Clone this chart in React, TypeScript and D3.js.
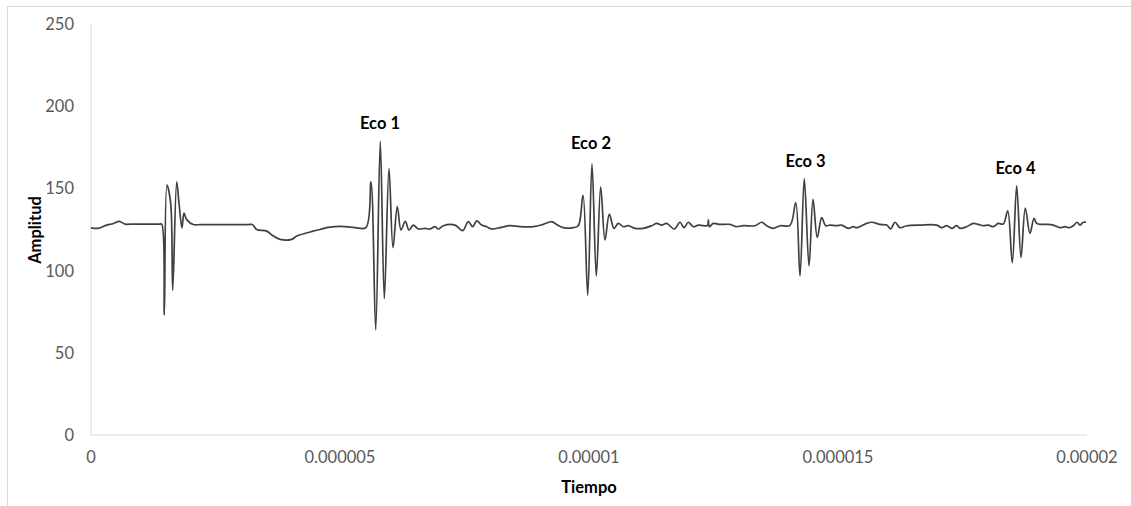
import React from "react";
import * as d3 from "d3";

// Time (s) and amplitude samples
const tiempo: number[] = [
  0, 0.147e-6, 0.315e-6, 0.442e-6, 0.568e-6, 0.683e-6, 0.85e-6, 1.380e-6, 1.420e-6, 1.472e-6, 1.526e-6, 1.600e-6,
  1.641e-6, 1.721e-6, 1.767e-6, 1.827e-6, 1.867e-6, 1.922e-6, 2.054e-6, 2.2e-6, 3.15e-6, 3.239e-6, 3.327e-6, 3.528e-6,
  3.629e-6, 3.795e-6, 4.030e-6, 4.131e-6, 4.464e-6, 4.598e-6, 4.799e-6, 5.100e-6, 5.301e-6, 5.522e-6,
  5.622e-6, 5.717e-6, 5.809e-6, 5.890e-6, 5.984e-6, 6.064e-6, 6.151e-6, 6.225e-6, 6.311e-6, 6.386e-6,
  6.472e-6, 6.572e-6, 6.707e-6, 6.807e-6, 6.908e-6, 6.974e-6, 7.074e-6, 7.309e-6, 7.464e-6, 7.576e-6,
  7.665e-6, 7.745e-6, 7.845e-6, 7.946e-6, 8.046e-6, 8.213e-6, 8.414e-6, 8.614e-6, 8.882e-6, 9.082e-6,
  9.251e-6, 9.351e-6, 9.484e-6, 9.685e-6, 9.785e-6, 9.880e-6, 9.974e-6, 10.060e-6, 10.147e-6, 10.235e-6,
  10.321e-6, 10.408e-6, 10.502e-6, 10.588e-6, 10.689e-6, 10.789e-6, 10.924e-6, 11.090e-6, 11.259e-6, 11.359e-6,
  11.460e-6, 11.560e-6, 11.713e-6, 11.827e-6, 11.908e-6, 11.994e-6, 12.094e-6, 12.195e-6, 12.295e-6, 12.380e-6,
  12.396e-6, 12.416e-6, 12.496e-6, 12.631e-6, 12.831e-6, 12.952e-6, 13.098e-6, 13.333e-6, 13.468e-6, 13.568e-6,
  13.701e-6, 13.835e-6, 14.036e-6, 14.151e-6, 14.237e-6, 14.323e-6, 14.418e-6, 14.498e-6, 14.584e-6, 14.673e-6,
  14.753e-6, 14.839e-6, 14.974e-6, 15.074e-6, 15.207e-6, 15.307e-6, 15.375e-6, 15.476e-6, 15.576e-6, 15.677e-6,
  15.843e-6, 15.978e-6, 16.058e-6, 16.145e-6, 16.245e-6, 16.380e-6, 16.647e-6, 16.982e-6, 17.082e-6, 17.183e-6,
  17.283e-6, 17.383e-6, 17.450e-6, 17.584e-6, 17.717e-6, 17.817e-6, 17.918e-6, 18.018e-6, 18.118e-6, 18.219e-6,
  18.319e-6, 18.408e-6, 18.500e-6, 18.588e-6, 18.675e-6, 18.761e-6, 18.855e-6, 18.936e-6, 18.990e-6, 19.090e-6,
  19.191e-6, 19.323e-6, 19.458e-6, 19.558e-6, 19.645e-6, 19.725e-6, 19.805e-6, 19.859e-6, 19.926e-6, 19.980e-6,
];

const amplitud: number[] = [
  126, 125.7, 127.7, 128.5, 130, 128.3, 128.3, 128.3, 128.3, 73, 152, 141,
  88, 154, 141, 126, 135, 131, 128, 128, 128, 128, 125, 124,
  121.7, 119, 119, 121, 124, 125, 126.5, 126.8, 126.2, 126.2,
  154, 64, 178.4, 83, 162, 114, 139, 124.7, 130, 124.7,
  127.7, 125.3, 125.7, 125.3, 126.7, 125.3, 127.3, 127.7, 124.3, 129.8,
  126.7, 130.2, 127.7, 126.7, 125.3, 126.1, 127.3, 126.7, 126.7, 128.1,
  129.8, 128.1, 126.1, 126.1, 127.3, 146, 85, 165, 96.7, 151,
  118.6, 134.4, 125.7, 128.7, 126.7, 127.3, 125.7, 125.7, 127.3, 128.7,
  127.7, 128.7, 125.3, 129.4, 126.1, 129.4, 126.7, 127.7, 127.3, 127.5,
  130.8, 126.7, 128.7, 128.1, 128.1, 126.7, 127.3, 127.3, 129.4, 127.3,
  125.7, 127.3, 127.5, 141.3, 96.7, 156, 102.8, 143.3, 120.2, 132.2,
  127.3, 127.7, 127.3, 127.7, 125.7, 126.7, 126.1, 127.3, 128.7, 129.4,
  128.1, 127.7, 125.3, 129.4, 126.1, 127.3, 127.7, 127.7, 126.1, 127.3,
  125.7, 127.3, 125.7, 126.7, 128.7, 128.1, 127.3, 127.7, 126.7, 128.7,
  128.3, 136.3, 104.8, 151.6, 108, 138, 122.6, 131.8, 128.7, 128.1,
  128.1, 127.7, 126.1, 126.7, 126.1, 127.3, 129.4, 127.7, 129.4, 129.4,
];

const yTicks: number[] = [0, 50, 100, 150, 200, 250];
const xTicks: number[] = [0, 0.000005, 0.00001, 0.000015, 0.00002];
const xTickLabels: string[] = ["0", "0.000005", "0.00001", "0.000015", "0.00002"];

const ecoLabels: string[] = ["Eco 1", "Eco 2", "Eco 3", "Eco 4"];
const ecoTiempo: number[] = [5.803e-6, 10.04e-6, 14.348e-6, 18.564e-6];
const ecoAmplitud: number[] = [189.8, 177.6, 166.7, 162.4];

const W = 1131;
const H = 506;
const margin = { left: 91, right: 44, top: 24, bottom: 71 };

export default function App() {
  const x = d3.scaleLinear().domain([0, 0.00002]).range([margin.left, W - margin.right]);
  const y = d3.scaleLinear().domain([0, 250]).range([H - margin.bottom, margin.top]);
  const pts = tiempo.map((t, i) => [t, amplitud[i]] as [number, number]);
  const line = d3
    .line<[number, number]>()
    .x((d) => x(d[0]))
    .y((d) => y(d[1]))
    .curve(d3.curveCatmullRom.alpha(0.5));
  const font = "Lato, 'Open Sans', sans-serif";
  return (
    <svg
      width={W}
      height={H}
      style={{ position: "absolute", left: 0, top: 0, background: "#fff" }}
      fontFamily={font}
    >
      <rect x={7.5} y={6.5} width={W + 20} height={H + 20} fill="#fff" stroke="#d9d9d9" strokeWidth={1} />
      <line x1={x(0)} x2={x(0)} y1={y(250)} y2={y(0)} stroke="#d9d9d9" strokeWidth={1} />
      <line x1={x(0)} x2={x(0.00002)} y1={y(0)} y2={y(0)} stroke="#d9d9d9" strokeWidth={1} />
      {yTicks.map((v) => (
        <text key={v} x={74} y={y(v)} textAnchor="end" dominantBaseline="central" fontSize={16.5} fill="#595959">
          {v}
        </text>
      ))}
      {xTicks.map((v, i) => (
        <text key={v} x={x(v)} y={y(0) + 22} textAnchor="middle" dominantBaseline="central" fontSize={16.5} fill="#595959">
          {xTickLabels[i]}
        </text>
      ))}
      <path d={line(pts) || ""} fill="none" stroke="#404040" strokeWidth={1.7} strokeLinejoin="round" />
      {ecoLabels.map((l, i) => (
        <text
          key={l}
          x={x(ecoTiempo[i])}
          y={y(ecoAmplitud[i])}
          textAnchor="middle"
          dominantBaseline="central"
          fontSize={16.5}
          fontWeight="bold"
          fill="#000"
        >
          {l}
        </text>
      ))}
      <text
        transform={`translate(35, 230) rotate(-90)`}
        textAnchor="middle"
        dominantBaseline="central"
        fontSize={16.5}
        fontWeight="bold"
        fill="#000"
      >
        Amplitud
      </text>
      <text x={(x(0) + x(0.00002)) / 2} y={487} textAnchor="middle" dominantBaseline="central" fontSize={16.5} fontWeight="bold" fill="#000">
        Tiempo
      </text>
    </svg>
  );
}
